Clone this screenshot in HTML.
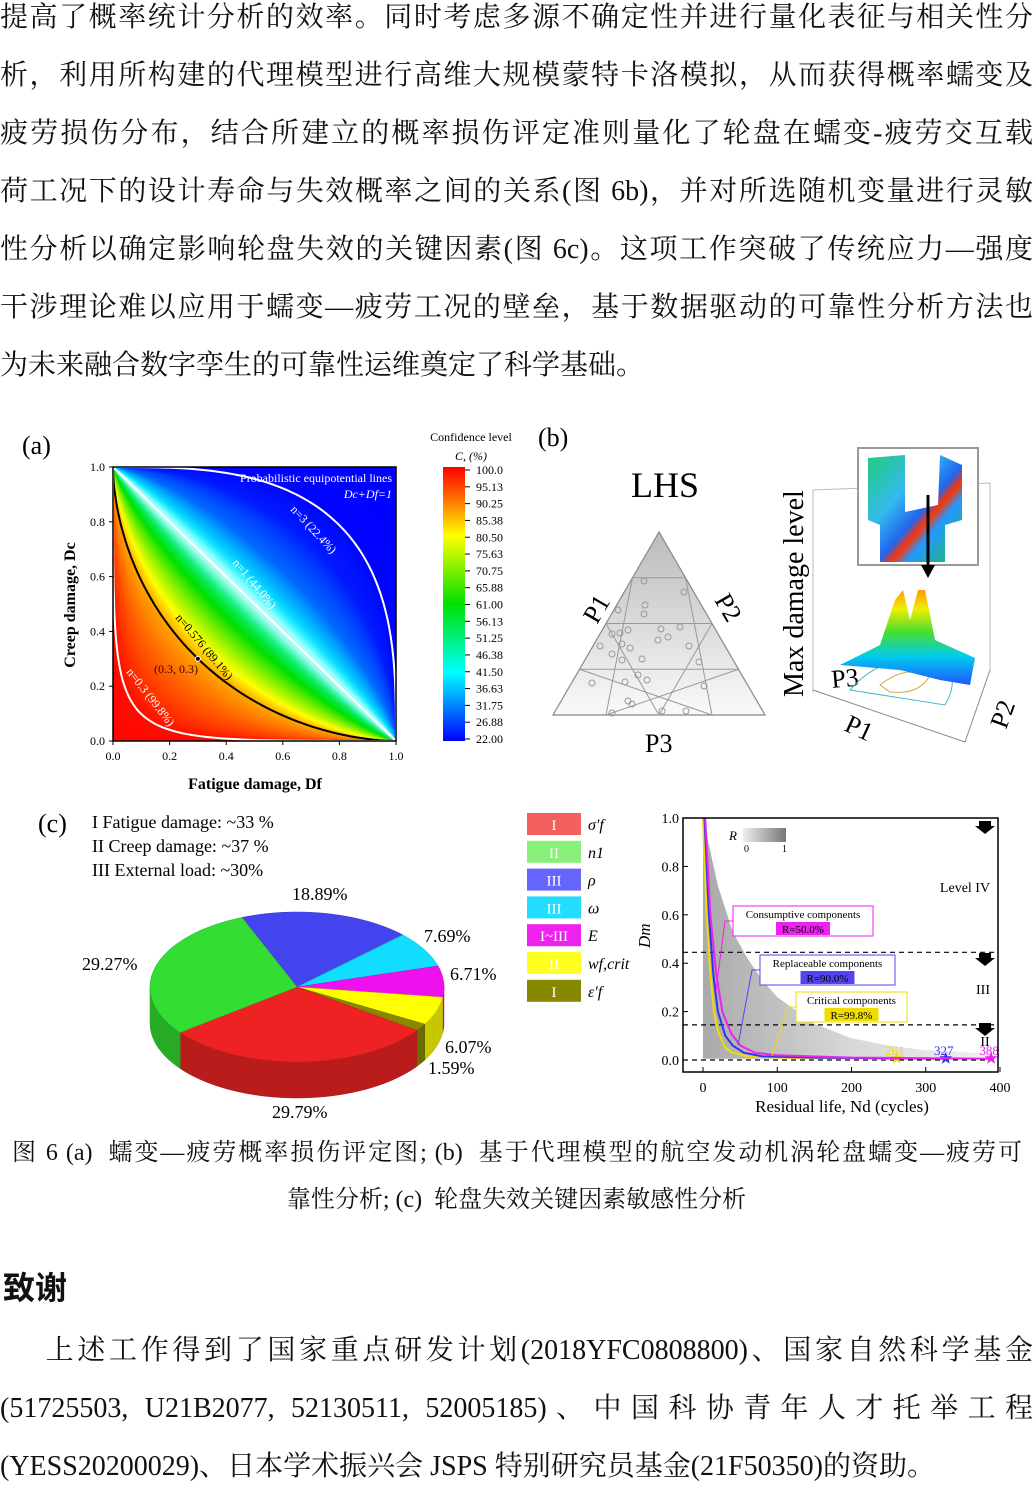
<!DOCTYPE html>
<html><head><meta charset="utf-8">
<style>
body{margin:0;width:1033px;height:1485px;position:relative;background:#fff;overflow:hidden;font-family:"Liberation Serif","Noto Serif CJK SC",serif;color:#111}
.p{position:absolute;left:0;width:1033px;font-size:28px;line-height:58px}
.l{display:block;text-align:justify;text-align-last:justify;white-space:nowrap;height:58px}
.ab{position:absolute}
svg text{font-family:"Liberation Serif","Noto Serif CJK SC",serif}
</style></head><body>
<div class="p" style="top:-11px">
<div class="l">提高了概率统计分析的效率。同时考虑多源不确定性并进行量化表征与相关性分</div>
<div class="l">析，利用所构建的代理模型进行高维大规模蒙特卡洛模拟，从而获得概率蠕变及</div>
<div class="l">疲劳损伤分布，结合所建立的概率损伤评定准则量化了轮盘在蠕变-疲劳交互载</div>
<div class="l">荷工况下的设计寿命与失效概率之间的关系(图 6b)，并对所选随机变量进行灵敏</div>
<div class="l">性分析以确定影响轮盘失效的关键因素(图 6c)。这项工作突破了传统应力—强度</div>
<div class="l">干涉理论难以应用于蠕变—疲劳工况的壁垒，基于数据驱动的可靠性分析方法也</div>
<div class="l" style="text-align-last:left">为未来融合数字孪生的可靠性运维奠定了科学基础。</div>
</div>

<canvas id="heat" width="283" height="274" class="ab" style="left:113px;top:467px"></canvas>
<svg id="fig" class="ab" style="left:0;top:400px" width="1033" height="730">
<defs>
<linearGradient id="jet" x1="0" y1="1" x2="0" y2="0">
<stop offset="0" stop-color="#0000ff"/><stop offset="0.25" stop-color="#00ffff"/><stop offset="0.5" stop-color="#00e000"/><stop offset="0.75" stop-color="#ffff00"/><stop offset="0.9" stop-color="#ff6000"/><stop offset="1" stop-color="#ff0000"/></linearGradient>
<linearGradient id="gR" x1="0" x2="1"><stop offset="0" stop-color="#eee"/><stop offset="1" stop-color="#777"/></linearGradient>
<linearGradient id="band" x1="0" x2="1"><stop offset="0" stop-color="#aaa"/><stop offset="0.5" stop-color="#d8d8d8"/><stop offset="1" stop-color="#f2f2f2"/></linearGradient>
<linearGradient id="tri" x1="0" y1="0" x2="0" y2="1"><stop offset="0" stop-color="#bbb"/><stop offset="1" stop-color="#fafafa"/></linearGradient>
<linearGradient id="surf" x1="0" y1="0" x2="0" y2="1"><stop offset="0" stop-color="#ff9900"/><stop offset="0.2" stop-color="#eeee00"/><stop offset="0.45" stop-color="#44dd33"/><stop offset="0.7" stop-color="#00ccee"/><stop offset="1" stop-color="#2255ff"/></linearGradient>
<linearGradient id="part" x1="0" y1="0" x2="1" y2="1"><stop offset="0" stop-color="#22cc77"/><stop offset="0.35" stop-color="#33bbee"/><stop offset="0.55" stop-color="#2266ee"/><stop offset="0.62" stop-color="#ff3300"/><stop offset="0.7" stop-color="#2299ff"/><stop offset="1" stop-color="#22bb55"/></linearGradient>
</defs>
<g id="pa"></g>
<g id="pb"></g>
<g id="pc"></g>
<g id="pd"></g>
</svg>

<div class="ab" style="left:12px;top:1136px;width:1010px;font-size:24px;line-height:34px;text-align:justify;text-align-last:justify;white-space:nowrap">图 6 (a)&nbsp; 蠕变—疲劳概率损伤评定图; (b)&nbsp; 基于代理模型的航空发动机涡轮盘蠕变—疲劳可</div>
<div class="ab" style="left:0;top:1183px;width:1033px;font-size:24px;line-height:34px;text-align:center">靠性分析; (c)&nbsp; 轮盘失效关键因素敏感性分析</div>
<div class="ab" style="left:3px;top:1263px;font-size:32px;font-weight:bold;font-family:'Liberation Sans','Noto Sans CJK SC',sans-serif">致谢</div>
<div class="p" style="top:1322px">
<div class="l">&emsp;&ensp;上述工作得到了国家重点研发计划(2018YFC0808800)、国家自然科学基金</div>
<div class="l">(51725503, U21B2077, 52130511, 52005185)、中国科协青年人才托举工程</div>
<div class="l" style="text-align-last:left">(YESS20200029)、日本学术振兴会 JSPS 特别研究员基金(21F50350)的资助。</div>
</div>

<script>
// ---------- data ----------
const nLevels=[0.05,0.3,0.576,0.8,1,1.4,2,3,10];
const confLevels=[100,99,87,62,43,30,24,22.3,22];
const cbTicks=["100.0","95.13","90.25","85.38","80.50","75.63","70.75","65.88","61.00","56.13","51.25","46.38","41.50","36.63","31.75","26.88","22.00"];
const axTicks=["0.0","0.2","0.4","0.6","0.8","1.0"];
const curveN=[3,1,0.576,0.3];
const pieLabels=["18.89%","7.69%","6.71%","6.07%","1.59%","29.79%","29.27%"];
const pieValues=[18.89,7.69,6.71,6.07,1.59,29.79,29.27];
const pieColors=["#4444ee","#11ddff","#ee11ee","#ffff00","#888800","#ee2222","#33dd33"];
const lifeTicks=[0,100,200,300,400];
const dmTicks=[0,0.2,0.4,0.6,0.8,1.0];
const yellowCurve=[[0,1],[5,0.6],[10,0.35],[15,0.2],[20,0.12],[30,0.05],[40,0.03],[60,0.015],[100,0.01],[261,0.005]];
const blueCurve=[[2,1],[8,0.6],[14,0.35],[20,0.2],[30,0.1],[40,0.06],[55,0.03],[80,0.015],[150,0.01],[327,0.005]];
const magentaCurve=[[3,1],[10,0.6],[18,0.35],[26,0.2],[38,0.11],[50,0.06],[70,0.03],[100,0.02],[200,0.01],[388,0.005]];
const bandUpper=[[0,1],[20,0.72],[40,0.53],[60,0.42],[80,0.33],[100,0.26],[150,0.15],[200,0.09],[250,0.06],[300,0.04],[400,0.025]];
const levelLines=[0.445,0.145,0];

const NS="http://www.w3.org/2000/svg";
function mk(p,tag,a,txt){const e=document.createElementNS(NS,tag);for(const k in a)e.setAttribute(k,a[k]);if(txt!==undefined)e.textContent=txt;p.appendChild(e);return e;}
const OY=400;

// ---------- heatmap ----------
function interp(xs,ys,x){if(x<=xs[0])return ys[0];for(let i=1;i<xs.length;i++)if(x<=xs[i]){const t=(x-xs[i-1])/(xs[i]-xs[i-1]);return ys[i-1]+t*(ys[i]-ys[i-1]);}return ys[ys.length-1];}
function jet(c){const t=(c-22)/78;const st=[[0,0,0,255],[0.25,0,255,255],[0.5,0,224,0],[0.75,255,255,0],[0.9,255,96,0],[1,255,0,0]];for(let i=1;i<st.length;i++)if(t<=st[i][0]){const u=(t-st[i-1][0])/(st[i][0]-st[i-1][0]);return[0,1,2].map(k=>st[i-1][k+1]+u*(st[i][k+1]-st[i-1][k+1]));}return[255,0,0];}
(function(){const cv=document.getElementById('heat'),ctx=cv.getContext('2d'),W=283,H=274,img=ctx.createImageData(W,H);
for(let py=0;py<H;py++)for(let px=0;px<W;px++){const x=Math.max(1e-3,(px+0.5)/W),y=Math.max(1e-3,1-(py+0.5)/H);let lo=0.01,hi=50;
for(let k=0;k<40;k++){const m=Math.sqrt(lo*hi);(Math.pow(x,m)+Math.pow(y,m)>1)?lo=m:hi=m;}
const n=Math.sqrt(lo*hi);const c=interp(nLevels,confLevels,n);let col=jet(c);
const w=Math.exp(-Math.pow(Math.log(n)/0.08,2))*0.7;col=col.map(v=>v+(255-v)*w);
const i=(py*W+px)*4;img.data[i]=col[0];img.data[i+1]=col[1];img.data[i+2]=col[2];img.data[i+3]=255;}
ctx.putImageData(img,0,0);})();

// ---------- panel a ----------
(function(){const g=document.getElementById('pa');const X0=113,X1=396,Y0=741-OY,Y1=467-OY;
const sx=v=>X0+v*(X1-X0),sy=v=>Y0-v*(Y0-Y1);
mk(g,'text',{x:22,y:54,'font-size':26},'(a)');
curveN.forEach((n,i)=>{let d='';for(let k=0;k<=100;k++){const t=k/100*Math.PI/2;const x=Math.pow(Math.cos(t),2/n),y=Math.pow(Math.sin(t),2/n);d+=(k?'L':'M')+sx(x).toFixed(1)+','+sy(y).toFixed(1);}
const p=mk(g,'path',{d:d,fill:'none',stroke:n==0.576?'#000':'#fff','stroke-width':2});});
mk(g,'rect',{x:X0,y:Y1,width:X1-X0,height:Y0-Y1,fill:'none',stroke:'#000','stroke-width':1.5});
axTicks.forEach((t,i)=>{const v=i/5;mk(g,'line',{x1:sx(v),y1:Y0,x2:sx(v),y2:Y0+4,stroke:'#000'});mk(g,'text',{x:sx(v),y:Y0+19,'font-size':12,'text-anchor':'middle'},t);
mk(g,'line',{x1:X0,y1:sy(v),x2:X0-4,y2:sy(v),stroke:'#000'});mk(g,'text',{x:X0-8,y:sy(v)+4,'font-size':12,'text-anchor':'end'},t);});
mk(g,'text',{x:255,y:389,'font-size':16,'font-weight':'bold','text-anchor':'middle'},'Fatigue damage, Df');
mk(g,'text',{x:75,y:205,'font-size':16,'font-weight':'bold','text-anchor':'middle',transform:'rotate(-90 75 205)'},'Creep damage, Dc');
mk(g,'text',{x:392,y:82,'font-size':12,fill:'#fff','text-anchor':'end'},'Probabilistic equipotential lines');
mk(g,'text',{x:392,y:98,'font-size':12,fill:'#fff','text-anchor':'end','font-style':'italic'},'Dc+Df=1');
mk(g,'text',{x:0,y:0,'font-size':12,fill:'#fff',transform:'translate(290,110) rotate(47)'},'n=3 (22.4%)');
mk(g,'text',{x:0,y:0,'font-size':12,fill:'#fff',transform:'translate(232,163) rotate(50)'},'n=1 (44.0%)');
mk(g,'text',{x:0,y:0,'font-size':12,fill:'#000',transform:'translate(175,218) rotate(50)'},'n=0.576 (89.1%)');
mk(g,'text',{x:0,y:0,'font-size':12,fill:'#fff',transform:'translate(126,272) rotate(52)'},'n=0.3 (99.8%)');
mk(g,'text',{x:154,y:273,'font-size':12,fill:'#400'},'(0.3, 0.3)');
mk(g,'circle',{cx:sx(0.3),cy:sy(0.3),r:2.5,fill:'#000',stroke:'#fff'});
mk(g,'rect',{x:443,y:67,width:22,height:274,fill:'url(#jet)'});
mk(g,'text',{x:471,y:41,'font-size':12,'text-anchor':'middle'},'Confidence level');
mk(g,'text',{x:471,y:60,'font-size':12,'text-anchor':'middle','font-style':'italic'},'C, (%)');
cbTicks.forEach((t,i)=>{const y=70+i*(269/16);mk(g,'line',{x1:465,y1:y,x2:470,y2:y,stroke:'#000'});mk(g,'text',{x:476,y:y+4,'font-size':12},t);});
})();

// ---------- panel b ----------
(function(){const g=document.getElementById('pb');
mk(g,'text',{x:538,y:46,'font-size':26},'(b)');
mk(g,'text',{x:665,y:97,'font-size':36,'text-anchor':'middle'},'LHS');
const A=[659,132],B=[553,315],C=[765,315];
mk(g,'polygon',{points:[A,B,C].join(' '),fill:'url(#tri)',stroke:'#888','stroke-width':1.2});
for(let k=1;k<4;k++){const t=k/4;const L=[A[0]+(B[0]-A[0])*t,A[1]+(B[1]-A[1])*t],R=[A[0]+(C[0]-A[0])*t,A[1]+(C[1]-A[1])*t];
mk(g,'line',{x1:L[0],y1:L[1],x2:R[0],y2:R[1],stroke:'#999'});
mk(g,'line',{x1:L[0],y1:L[1],x2:B[0]+(C[0]-B[0])*t,y2:315,stroke:'#999'});mk(g,'line',{x1:R[0],y1:R[1],x2:B[0]+(C[0]-B[0])*(1-t),y2:315,stroke:'#999'});}
const pts=[[644,181],[684,192],[645,205],[644,214],[618,210],[620,233],[628,230],[661,229],[612,234],[680,227],[658,240],[668,237],[600,246],[622,244],[630,248],[689,246],[612,254],[622,260],[642,259],[699,262],[638,275],[647,280],[592,283],[625,282],[704,286],[628,301],[632,304],[612,313],[662,311],[686,311]];
pts.forEach(p=>mk(g,'circle',{cx:p[0],cy:p[1],r:3,fill:'none',stroke:'#999'}));
mk(g,'text',{x:0,y:0,'font-size':26,transform:'translate(597,225) rotate(-60)'},'P1');
mk(g,'text',{x:0,y:0,'font-size':26,transform:'translate(714,200) rotate(60)'},'P2');
mk(g,'text',{x:645,y:352,'font-size':26},'P3');
// 3D plot
mk(g,'polyline',{points:'813,293 813,90 990,83 990,270',fill:'none',stroke:'#bbb'});
mk(g,'polyline',{points:'813,290 965,342 990,270',fill:'none',stroke:'#888'});
mk(g,'text',{x:0,y:0,'font-size':28,transform:'translate(803,297) rotate(-90)'},'Max damage level');
mk(g,'text',{x:0,y:0,'font-size':26,transform:'translate(832,288) rotate(-5)'},'P3');
mk(g,'text',{x:0,y:0,'font-size':26,transform:'translate(843,330) rotate(25)'},'P1');
mk(g,'text',{x:0,y:0,'font-size':26,transform:'translate(1006,330) rotate(-70)'},'P2');
mk(g,'path',{d:'M850,290 Q880,255 930,258 Q965,270 945,305 Z',fill:'none',stroke:'#44bbcc'});
mk(g,'path',{d:'M880,285 Q905,265 930,275 Q920,295 890,292 Z',fill:'none',stroke:'#ccaa44'});
mk(g,'path',{d:'M830,270 L880,245 L895,200 L903,190 L910,220 L918,190 L925,190 L935,240 L975,258 L970,285 L940,280 L900,270 L840,265 Z',fill:'url(#surf)'});
mk(g,'rect',{x:858,y:48,width:120,height:117,fill:'#fff',stroke:'#999','stroke-width':2});
mk(g,'path',{d:'M868,58 L905,55 L905,112 L938,105 L940,55 L962,65 L962,120 L945,125 L945,162 L880,162 L880,125 L868,120 Z',fill:'url(#part)'});
mk(g,'line',{x1:928,y1:95,x2:928,y2:170,stroke:'#000','stroke-width':3});
mk(g,'polygon',{points:'921,165 935,165 928,178',fill:'#000'});
})();

// ---------- panel c pie ----------
(function(){const g=document.getElementById('pc');
mk(g,'text',{x:38,y:432,'font-size':26},'(c)');
mk(g,'text',{x:92,y:428,'font-size':18},'I   Fatigue damage: ~33 %');
mk(g,'text',{x:92,y:452,'font-size':18},'II  Creep damage: ~37 %');
mk(g,'text',{x:92,y:476,'font-size':18},'III External load: ~30%');
const cx=297,cy=587,rx=147,ry=75,dep=36;const tot=pieValues.reduce((a,b)=>a+b,0);
function shade(c,f){const n=parseInt(c.slice(1),16);return 'rgb('+[(n>>16)&255,(n>>8)&255,n&255].map(v=>Math.round(v*f)).join(',')+')';}
let a=112;const segs=[];
pieValues.forEach((v,i)=>{const sw=v/tot*360;segs.push([a,a-sw,i]);a-=sw;});
const P=(ang,dy)=>[cx+rx*Math.cos(ang*Math.PI/180),cy-ry*Math.sin(ang*Math.PI/180)+dy];
segs.forEach(([a0,a1,i])=>{let pts=[];for(let k=0;k<=60;k++){const t=a0+(a1-a0)*k/60;if(Math.sin(t*Math.PI/180)<=0.02)pts.push(t);}
if(pts.length<2)return;let d='M'+P(pts[0],0);pts.forEach(t=>d+='L'+P(t,0));for(let k=pts.length-1;k>=0;k--)d+='L'+P(pts[k],dep);d+='Z';
const s=mk(g,'path',{d:d,fill:shade(pieColors[i],0.78),stroke:shade(pieColors[i],0.7),'stroke-width':0.5});});
segs.forEach(([a0,a1,i])=>{let d='M'+cx+','+cy;for(let k=0;k<=60;k++)d+='L'+P(a0+(a1-a0)*k/60,0);d+='Z';
const s=mk(g,'path',{d:d,fill:pieColors[i],stroke:shade(pieColors[i],0.8),'stroke-width':0.5});});
const lp=[[292,500],[424,542],[450,580],[445,653],[428,674],[272,718],[82,570]];
pieLabels.forEach((t,i)=>{const e=mk(g,'text',{x:lp[i][0],y:lp[i][1],'font-size':18},t);});
const lc=["#f46060","#88f07a","#6666ff","#22ddff","#ee22ee","#ffff22","#888800"],lt=["I","II","III","III","I~III","II","I"],ls=["σ'f","n1","ρ","ω","E","wf,crit","ε'f"];
lc.forEach((c,i)=>{const y=413+i*27.8;mk(g,'rect',{x:527,y:y,width:54,height:22,fill:c});mk(g,'text',{x:554,y:y+17,'font-size':15,fill:'#fff','text-anchor':'middle'},lt[i]);
const e=mk(g,'text',{x:588,y:y+17,'font-size':16,'font-style':'italic'},ls[i]);});
})();

// ---------- line chart ----------
(function(){const g=document.getElementById('pd');const X0=703,X1=1000,Y0=1060-OY,Y1=818-OY;
const sx=v=>X0+v/400*(X1-X0),sy=v=>Y0-v*(Y0-Y1);
const path=a=>a.map((p,i)=>(i?'L':'M')+sx(p[0]).toFixed(1)+','+sy(p[1]).toFixed(1)).join('');
const b=mk(g,'path',{d:path(bandUpper)+'L'+sx(400)+','+sy(0.005)+'L'+sx(0)+','+sy(0.005)+'Z',fill:'url(#band)'});
levelLines.forEach(v=>mk(g,'line',{x1:683,y1:sy(v),x2:998,y2:sy(v),stroke:'#000','stroke-dasharray':'5,4','stroke-width':1.2}));
[[yellowCurve,'#eedd00'],[blueCurve,'#3333ee'],[magentaCurve,'#ee22ee']].forEach(([c,col])=>{const e=mk(g,'path',{d:path(c),fill:'none',stroke:col,'stroke-width':2});
const l=c[c.length-1];mk(g,'text',{x:sx(l[0]),y:sy(l[1])+4,'font-size':14,fill:col,'text-anchor':'middle'},'★');mk(g,'text',{x:sx(l[0])-2,y:sy(l[1])-4,'font-size':13,fill:col,'text-anchor':'middle'},l[0]);});
mk(g,'rect',{x:683,y:Y1,width:315,height:254,fill:'none',stroke:'#000','stroke-width':1.5});
lifeTicks.forEach(v=>{mk(g,'line',{x1:sx(v),y1:Y1+254,x2:sx(v),y2:Y1+249,stroke:'#000'});mk(g,'text',{x:sx(v),y:Y1+274,'font-size':14,'text-anchor':'middle'},v);});
dmTicks.forEach(v=>{mk(g,'line',{x1:683,y1:sy(v),x2:688,y2:sy(v),stroke:'#000'});mk(g,'text',{x:679,y:sy(v)+5,'font-size':14,'text-anchor':'end'},v.toFixed(1));});
mk(g,'text',{x:842,y:712,'font-size':17,'text-anchor':'middle'},'Residual life, Nd (cycles)');
mk(g,'text',{x:0,y:0,'font-size':17,'font-style':'italic',transform:'translate(650,548) rotate(-90)'},'Dm');
mk(g,'text',{x:729,y:440,'font-size':13,'font-style':'italic'},'R');mk(g,'rect',{x:743,y:428,width:43,height:14,fill:'url(#gR)'});
mk(g,'text',{x:744,y:452,'font-size':10},'0');mk(g,'text',{x:782,y:452,'font-size':10},'1');
mk(g,'text',{x:965,y:492,'font-size':14,'text-anchor':'middle'},'Level IV');
mk(g,'text',{x:983,y:594,'font-size':14,'text-anchor':'middle'},'III');mk(g,'text',{x:985,y:646,'font-size':14,'text-anchor':'middle'},'II');
[426,558,628].forEach(y=>mk(g,'polygon',{points:`979,${y-5} 991,${y-5} 991,${y} 995,${y} 985,${y+8} 975,${y} 979,${y}`,fill:'#000'}));
function box(x,y,w,col,t1,t2,lx,ly){mk(g,'rect',{x:x,y:y,width:w,height:30,fill:'#fff',stroke:col});mk(g,'text',{x:x+w/2,y:y+12,'font-size':11,'text-anchor':'middle'},t1);
mk(g,'rect',{x:x+w/2-27,y:y+16,width:54,height:13,fill:col});mk(g,'text',{x:x+w/2,y:y+27,'font-size':11,'text-anchor':'middle'},t2);
mk(g,'polyline',{points:`${x},${y+15} ${x-8},${y+15} ${lx},${ly}`,fill:'none',stroke:col});}
box(733,506,140,'#ee22ee','Consumptive  components','R=50.0%',716,590);
box(760,555,135,'#5544ee','Replaceable  components','R=90.0%',738,645);
box(796,592,111,'#eedd00','Critical  components','R=99.8%',772,656);
})();
</script>
</body></html>
